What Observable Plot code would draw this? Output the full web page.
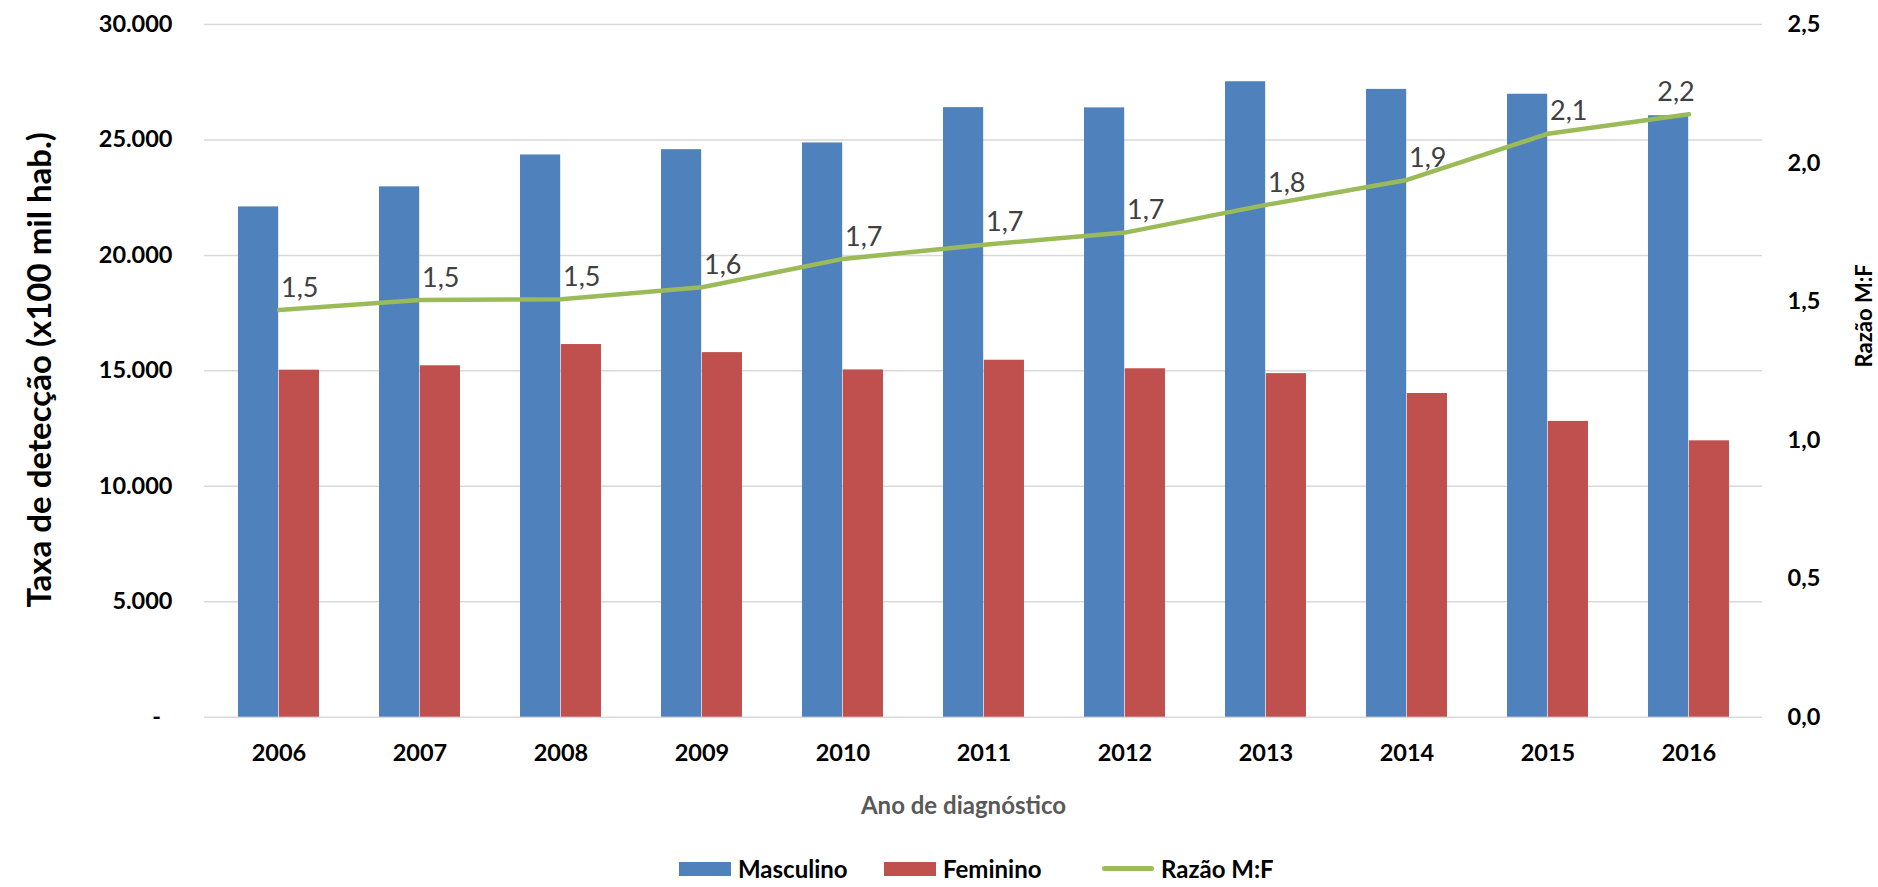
<!DOCTYPE html>
<html>
<head>
<meta charset="utf-8">
<script src="https://cdn.jsdelivr.net/npm/d3@7"></script>
<script src="https://cdn.jsdelivr.net/npm/@observablehq/plot@0.6"></script>
<style>
  html, body { margin: 0; padding: 0; background: #fff; }
  #chart svg { display: block; }
  #legend { position: relative; width: 1878px; height: 37px; font-family: Lato, sans-serif; font-weight: bold; font-size: 24px; color: #000; }
  .item { position: absolute; top: 0; height: 37px; display: flex; align-items: center; white-space: nowrap; }
  .sw { display: inline-block; width: 52px; height: 14px; margin-right: 7px; }
  .ln { display: inline-block; width: 52px; height: 5px; border-radius: 3px; margin-right: 7px; }
</style>
</head>
<body>
<div id="chart"></div>
<div id="legend"></div>
<script>
// ---- data ----
const years = ["2006","2007","2008","2009","2010","2011","2012","2013","2014","2015","2016"];
const masculino = [22100, 22970, 24350, 24580, 24870, 26400, 26390, 27520, 27190, 26980, 26050];
const feminino  = [15030, 15220, 16140, 15790, 15040, 15460, 15090, 14880, 14020, 12810, 11970];
const razao     = [1.47, 1.506, 1.508, 1.552, 1.654, 1.705, 1.749, 1.849, 1.939, 2.106, 2.176];
const leftTicks = [0, 5000, 10000, 15000, 20000, 25000, 30000];
const rightTicks = [0, 0.5, 1.0, 1.5, 2.0, 2.5];

const colors = {m: "#4F81BD", f: "#C0504D", r: "#9BBB59"};
const W = 1878, H = 850;
const mL = 204, mR = 116, mT = 24, mB = H - 716.7;
const K = 30000 / 2.5; // secondary axis scale factor

const data = years.map((y, i) => ({year: y, m: masculino[i], f: feminino[i], r: razao[i]}));
const bw = (W - mL - mR) / years.length;
const barW = 40.8;

const fmtLeft = d => d === 0 ? "-\u00a0\u00a0" : d3.format(",")(d).replace(/,/g, ".");
const fmtRatio = d => d.toFixed(1).replace(".", ",");

const last = data.slice(-1);
const rest = data.slice(0, -1);

const chart = Plot.plot({
  width: W,
  height: H,
  marginLeft: mL,
  marginRight: mR,
  marginTop: mT,
  marginBottom: mB,
  style: {fontFamily: "Lato, sans-serif", fontWeight: "bold", color: "#000", background: "#fff"},
  x: {type: "band", domain: years, padding: 0},
  y: {domain: [0, 30000]},
  marks: [
    Plot.ruleY(leftTicks, {stroke: "#d9d9d9", strokeWidth: 1.5}),
    Plot.barY(data, {x: "year", y: "m", fill: colors.m, insetLeft: bw / 2 - barW, insetRight: bw / 2}),
    Plot.barY(data, {x: "year", y: "f", fill: colors.f, insetLeft: bw / 2, insetRight: bw / 2 - barW}),
    Plot.line(data, {x: "year", y: d => d.r * K, stroke: colors.r, strokeWidth: 4.5, strokeLinejoin: "round", strokeLinecap: "round"}),
    Plot.text(rest, {x: "year", y: d => d.r * K, text: d => fmtRatio(d.r), textAnchor: "start", dx: 2, dy: -22, fontSize: 27, fontWeight: "normal", fill: "#404040"}),
    Plot.text(last, {x: "year", y: d => d.r * K, text: d => fmtRatio(d.r), textAnchor: "middle", dx: -13, dy: -22, fontSize: 27, fontWeight: "normal", fill: "#404040"}),
    Plot.axisY({ticks: leftTicks, tickFormat: fmtLeft, tickSize: 0, tickPadding: 32, fontSize: 23.5, fontWeight: "bold", label: null}),
    Plot.axisY({anchor: "right", ticks: rightTicks.map(v => v * K), tickFormat: d => fmtRatio(d / K), tickSize: 0, tickPadding: 25, fontSize: 23.5, fontWeight: "bold", label: null}),
    Plot.axisX({tickSize: 0, tickPadding: 27, fontSize: 23.5, fontWeight: "bold", label: null}),
    Plot.text(["Taxa de detecção (x100 mil hab.)"], {frameAnchor: "left", textAnchor: "middle", dx: -164, dy: -1, rotate: -90, fontSize: 33, fontWeight: "bold", fill: "#000"}),
    Plot.text(["Razão M:F"], {frameAnchor: "right", textAnchor: "middle", dx: 102, dy: -55, rotate: -90, fontSize: 22, fontWeight: "bold", fill: "#000"}),
    Plot.text(["Ano de diagnóstico"], {frameAnchor: "bottom", textAnchor: "middle", dx: 963 - (mL + (W - mL - mR) / 2), dy: 813.5 - 716.7, fontSize: 24, fontWeight: "bold", fill: "#595959"})
  ]
});
document.getElementById("chart").appendChild(chart);

// ---- legend ----
const legendItems = [
  {label: "Masculino", color: colors.m, kind: "sw", left: 679},
  {label: "Feminino", color: colors.f, kind: "sw", left: 884},
  {label: "Razão M:F", color: colors.r, kind: "ln", left: 1102}
];
const legend = document.getElementById("legend");
for (const it of legendItems) {
  const div = document.createElement("div");
  div.className = "item";
  div.style.left = it.left + "px";
  const s = document.createElement("span");
  s.className = it.kind;
  s.style.background = it.color;
  const t = document.createElement("span");
  t.textContent = it.label;
  div.appendChild(s);
  div.appendChild(t);
  legend.appendChild(div);
}
</script>
</body>
</html>
